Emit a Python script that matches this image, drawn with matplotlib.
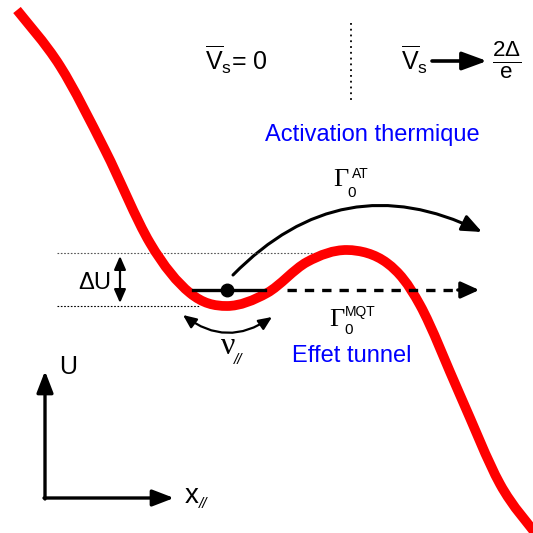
import matplotlib
matplotlib.use('Agg')
import matplotlib.pyplot as plt
import numpy as np
from matplotlib.patches import FancyArrowPatch, PathPatch
from matplotlib.path import Path

plt.rcParams['font.family'] = ['Liberation Sans', 'DejaVu Sans']
plt.rcParams['mathtext.fontset'] = 'custom'
plt.rcParams['mathtext.rm'] = 'Liberation Sans'
plt.rcParams['mathtext.it'] = 'Liberation Sans:italic'
plt.rcParams['mathtext.bf'] = 'Liberation Sans:bold'

# potential U(x//) (pixel units, y downwards)
pot_x = [17, 60, 105, 150, 190, 227, 267, 307, 347, 387, 420, 460, 500, 536]
pot_y = [10, 66, 150, 243, 293, 306, 293, 262, 250, 263, 305, 395, 484, 534]

barrier_top = 253
well_bottom = 306
level = 290
particle_x = 227


def smooth_path(xs, ys):
    # Catmull-Rom through the read points, drawn as cubic Bezier segments
    pts = np.column_stack([xs, ys]).astype(float)
    verts = [pts[0]]
    codes = [Path.MOVETO]
    n = len(pts)
    for i in range(n - 1):
        p0 = pts[max(i - 1, 0)]
        p1 = pts[i]
        p2 = pts[i + 1]
        p3 = pts[min(i + 2, n - 1)]
        verts += [p1 + (p2 - p0) / 6, p2 - (p3 - p1) / 6, p2]
        codes += [Path.CURVE4] * 3
    return Path(verts, codes)


fig = plt.figure(figsize=(5.33, 5.33), dpi=100)
ax = fig.add_axes([0, 0, 1, 1])
ax.set_xlim(0, 533)
ax.set_ylim(533, 0)
ax.axis('off')

# dotted reference levels
ax.plot([57, 323], [barrier_top, barrier_top], color='#555555', lw=0.8, ls=(0, (1.5, 1.5)))
ax.plot([57, 200], [well_bottom, well_bottom], color='black', lw=0.8, ls=(0, (1.5, 1.5)))

# potential curve
ax.add_patch(PathPatch(smooth_path(pot_x, pot_y), fill=False, edgecolor='#ff0000',
                       lw=7, capstyle='butt', zorder=3))

# energy level + particle
ax.plot([193, 265], [level, level], color='black', lw=2.4, zorder=4)
ax.plot([particle_x], [level], 'o', color='black', ms=9, zorder=5)
ax.plot([287, 462], [level, level], color='black', lw=2.4, ls=(0, (2.8, 2.4)), zorder=4)
ax.add_patch(FancyArrowPatch((455, level), (482, level), arrowstyle='-|>,head_length=11,head_width=5',
                             color='black', lw=2.4, mutation_scale=1, zorder=4))

# thermal activation arc
ax.add_patch(FancyArrowPatch((233, 275), (482, 232), connectionstyle='arc3,rad=-0.36',
                             arrowstyle='-|>,head_length=12,head_width=5', color='black',
                             lw=2.2, mutation_scale=1, shrinkA=0, shrinkB=0))

# attempt frequency
ax.add_patch(FancyArrowPatch((183, 315), (272, 317), connectionstyle='arc3,rad=0.36',
                             arrowstyle='<|-|>,head_length=8,head_width=3.5', color='black',
                             lw=1.6, mutation_scale=1, shrinkA=0, shrinkB=0))

# barrier height arrow
ax.add_patch(FancyArrowPatch((120, 256), (120, 303), arrowstyle='<|-|>,head_length=8,head_width=3.5',
                             color='black', lw=1.6, mutation_scale=1, shrinkA=0, shrinkB=0))
ax.text(111, 283, 'ΔU', fontsize=17, ha='right', va='center')

# axes arrows
ax.add_patch(FancyArrowPatch((45, 499), (45, 371), arrowstyle='-|>,head_length=13,head_width=5',
                             color='black', lw=2.4, mutation_scale=1, shrinkA=0, shrinkB=0))
ax.add_patch(FancyArrowPatch((44, 498), (174, 498), arrowstyle='-|>,head_length=13,head_width=5',
                             color='black', lw=2.4, mutation_scale=1, shrinkA=0, shrinkB=0))
ax.text(59, 367, 'U', fontsize=18, ha='left', va='center')
ax.text(185, 496, 'x', fontsize=20, ha='left', va='center')
ax.text(199, 504, '//', fontsize=11, style='italic', ha='left', va='center')

# labels
ax.text(228, 347, 'ν', fontsize=23, family=['Liberation Serif', 'DejaVu Serif'], ha='center', va='center')
ax.text(234, 360, '//', fontsize=11, style='italic', ha='left', va='center')

ax.text(341, 180, 'Γ', fontsize=19, family=['Liberation Serif', 'DejaVu Serif'], ha='center', va='center')
ax.text(347, 193, '0', fontsize=11, ha='left', va='center')
ax.text(352, 174, 'AT', fontsize=10, ha='left', va='center')

ax.text(337, 320, 'Γ', fontsize=19, family=['Liberation Serif', 'DejaVu Serif'], ha='center', va='center')
ax.text(344, 330, '0', fontsize=11, ha='left', va='center')
ax.text(345, 312, 'MQT', fontsize=10, ha='left', va='center')

ax.text(372, 135, 'Activation thermique', fontsize=17, color='#0000ff', ha='center', va='center')
ax.text(352, 356, 'Effet tunnel', fontsize=17, color='#0000ff', ha='center', va='center')

# top panel
ax.text(236, 60, r'$\overline{\mathrm{V}}_{\mathrm{s}}$= 0', fontsize=18, ha='center', va='center')
ax.plot([351, 351], [23, 102], color='black', lw=1.3, ls=(0, (1, 2.2)))
ax.text(415, 60, r'$\overline{\mathrm{V}}_{\mathrm{s}}$', fontsize=18, ha='center', va='center')
ax.add_patch(FancyArrowPatch((432, 61), (487, 61), arrowstyle='-|>,head_length=15,head_width=5.5',
                             color='black', lw=2.6, mutation_scale=1, shrinkA=0, shrinkB=0))
ax.text(507, 60, r'$\frac{2\Delta}{\mathrm{e}}$', fontsize=23, ha='center', va='center')

fig.savefig('out.png', dpi=100)
